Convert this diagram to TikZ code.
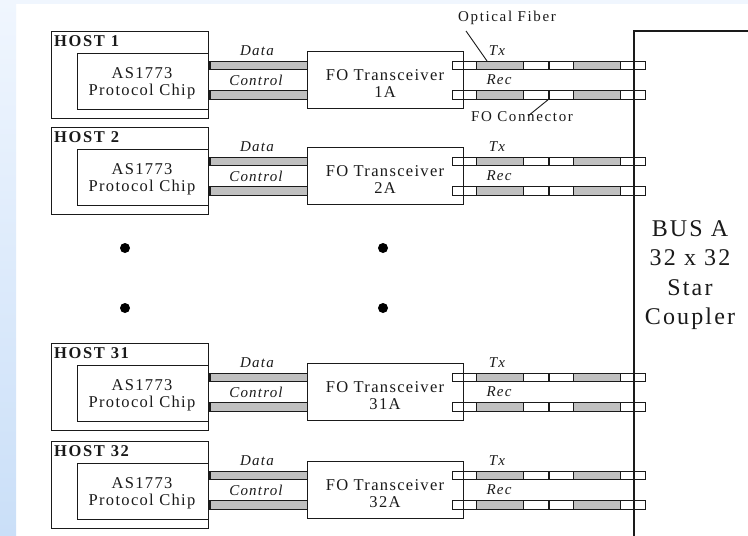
\documentclass[tikz,border=0pt]{standalone}
\usepackage{fontspec}
\setmainfont[LetterSpace=8]{Liberation Serif}
\newfontfamily\notefont[LetterSpace=11]{Liberation Serif}
\newfontfamily\busfont[LetterSpace=9]{Liberation Serif}
\newfontfamily\hostfont[LetterSpace=10]{Liberation Serif}
\definecolor{barg}{HTML}{C0C0C0}
\definecolor{ink}{HTML}{1A1A1A}
\definecolor{bgtop}{HTML}{F0F6FE}
\definecolor{bgbot}{HTML}{CADFF8}
\tikzset{
  box/.style={draw=ink, line width=1.3pt, fill=white, inner sep=0pt, anchor=north west},
  bar/.style={draw=ink, line width=1pt, fill=barg},
  cellw/.style={draw=ink, line width=1pt, fill=white},
  cellg/.style={draw=ink, line width=1pt, fill=barg},
  txt/.style={font=\fontsize{16.5}{18}\selectfont, inner sep=0pt, text=ink},
  hostlbl/.style={font=\fontsize{16.5}{18}\selectfont\hostfont\bfseries, inner sep=0pt, anchor=west, text=ink},
  lbl/.style={font=\fontsize{15}{17}\selectfont\itshape, inner sep=0pt, text=ink},
  note/.style={font=\fontsize{15}{17}\selectfont\notefont, inner sep=0pt, text=ink},
  bustxt/.style={font=\fontsize{24}{29.5}\selectfont\busfont, align=center, inner sep=0pt, text=ink},
  leader/.style={draw=ink, line width=0.9pt},
  dot/.style={circle, fill=black, inner sep=0pt, minimum size=10pt}
}
\begin{document}
\begin{tikzpicture}[x=1pt,y=-1pt]
\useasboundingbox (0,0) rectangle (748,536);
\fill[white] (0,0) rectangle (748,536);
\fill[bgtop] (16,0) rectangle (748,4);
\shade[top color=bgtop, bottom color=bgbot] (0,0) rectangle (16,536);

\foreach \T/\h/\n in {31/1/1A,127/2/2A,343/31/31A,441/32/32A}{
  % host and chip
  \node[box, minimum width=157pt, minimum height=87pt] (host\h) at (51,\T) {};
  \node[hostlbl] (hostl\h) at (54,{\T+10}) {HOST \h};
  \node[box, minimum width=131pt, minimum height=56pt] (chip\h) at (77,{\T+22}) {};
  \node[txt] (chipa\h) at (142,{\T+42}) {AS1773};
  \node[txt] (chipb\h) at (142,{\T+61}) {Protocol Chip};
  % data / control bars
  \draw[bar] (208,{\T+30}) rectangle (307,{\T+38});
  \draw[bar] (208,{\T+59}) rectangle (307,{\T+68});
  \fill[ink] (207.5,{\T+30}) rectangle (210.5,{\T+38});
  \fill[ink] (207.5,{\T+59}) rectangle (210.5,{\T+68});
  \node[lbl] (data\h) at (257,{\T+20}) {Data};
  \node[lbl] (ctrl\h) at (256,{\T+49}) {Control};
  % transceiver
  \node[box, minimum width=156pt, minimum height=57pt] (fo\h) at (307,{\T+20}) {};
  \node[txt] (foa\h) at (385,{\T+44}) {FO Transceiver};
  \node[txt] (fob\h) at (385,{\T+61}) {\n};
  % fibers
  \foreach \ya/\yb in {30/38,59/68}{
    \draw[cellw] (452,{\T+\ya}) rectangle (463,{\T+\yb});
    \draw[cellw] (463,{\T+\ya}) rectangle (476,{\T+\yb});
    \draw[cellg] (476,{\T+\ya}) rectangle (523,{\T+\yb});
    \draw[cellw] (523,{\T+\ya}) rectangle (549,{\T+\yb});
    \draw[cellw] (549,{\T+\ya}) rectangle (573,{\T+\yb});
    \draw[cellg] (573,{\T+\ya}) rectangle (620,{\T+\yb});
    \draw[cellw] (620,{\T+\ya}) rectangle (645,{\T+\yb});
    \draw[ink, line width=2.2pt] (549,{\T+\ya}) -- (549,{\T+\yb});
  }
  \node[lbl] (tx\h) at (497,{\T+20}) {Tx};
  \node[lbl] (rec\h) at (499,{\T+49}) {Rec};
}

% star coupler
\coordinate (cTop) at (634,31);
\coordinate (cBot) at (634,536);
\coordinate (cRight) at (748,31);
\draw[ink, line width=1.3pt] (cBot) -- (cTop) -- (cRight);
\node[bustxt] (bus) at (690,275) {BUS A\\32 x 32\\Star\\Coupler};

% annotations
\node[note] (ofib) at (507,18) {Optical Fiber};
\coordinate (ofibEnd) at (487,61);
\draw[leader] (466,31) -- (ofibEnd);
\node[note] (focon) at (522,117) {FO Connector};
\coordinate (foconEnd) at (549,99);
\draw[leader] (528,116) -- (foconEnd);

% ellipsis dots
\node[dot] (d1) at (125,248) {};
\node[dot] (d2) at (383,248) {};
\node[dot] (d3) at (125,308) {};
\node[dot] (d4) at (383,308) {};
\end{tikzpicture}
\end{document}
